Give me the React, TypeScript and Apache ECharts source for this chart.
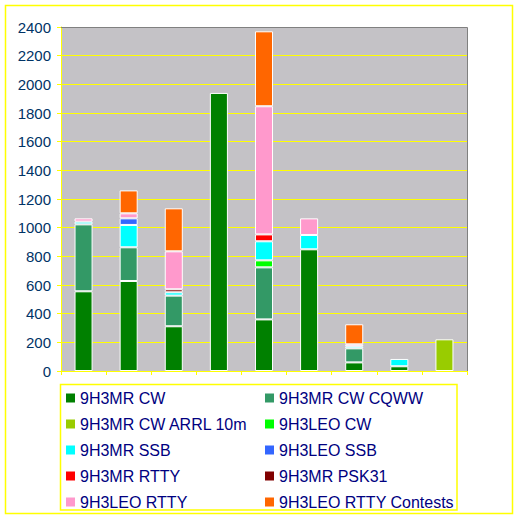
import React, { useEffect, useRef } from "react";
import * as echarts from "echarts";

const categories = ["1", "2", "3", "4", "5", "6", "7", "8", "9"];
const seriesNames = [
  "9H3MR CW",
  "9H3MR CW CQWW",
  "9H3MR CW ARRL 10m",
  "9H3LEO CW",
  "9H3MR SSB",
  "9H3LEO SSB",
  "9H3MR RTTY",
  "9H3MR PSK31",
  "9H3LEO RTTY",
  "9H3LEO RTTY Contests",
];
const seriesColors = [
  "#008000",
  "#339966",
  "#99CC00",
  "#00FF00",
  "#00FFFF",
  "#3366FF",
  "#FF0000",
  "#800000",
  "#FF99CC",
  "#FF6600",
];
const mrCw = [556, 628, 312, 1940, 360, 849, 60, 33, null];
const mrCwCqww = [467, 235, 214, null, 363, null, 98, null, null];
const mrCwArrl = [null, null, null, null, null, null, null, null, 221];
const leoCw = [null, null, null, null, 49, null, null, null, null];
const mrSsb = [19, 156, 23, null, 133, 100, 14, 51, null];
const leoSsb = [null, 46, null, null, null, null, null, null, null];
const mrRtty = [null, null, null, null, 48, null, null, null, null];
const mrPsk31 = [null, null, 21, null, null, null, null, null, null];
const leoRtty = [23, 35, 265, null, 894, 116, 14, null, null];
const leoRttyContests = [null, 160, 300, null, 523, null, 140, null, null];
const seriesData = [mrCw, mrCwCqww, mrCwArrl, leoCw, mrSsb, leoSsb, mrRtty, mrPsk31, leoRtty, leoRttyContests];
const yTicks = { min: 0, max: 2400, interval: 200 };

const FONT = "'Liberation Sans', Arial, sans-serif";

export default function App() {
  const ref = useRef<HTMLDivElement>(null);
  useEffect(() => {
    if (!ref.current) return;
    const chart = echarts.init(ref.current, null, { renderer: "svg" });
    const legendStyle = {
      orient: "vertical" as const,
      top: 390,
      padding: 0,
      itemWidth: 9,
      itemHeight: 9,
      itemGap: 10,
      icon: "rect",
      itemStyle: { borderWidth: 0 },
      textStyle: { color: "#000080", fontSize: 16, fontFamily: FONT, lineHeight: 15 },
      selectedMode: false,
    };
    chart.setOption({
      animation: false,
      backgroundColor: "#ffffff",
      textStyle: { fontFamily: FONT },
      grid: {
        left: 61,
        top: 27,
        right: 52,
        bottom: 149,
        show: true,
        backgroundColor: "#C4C2C6",
        borderWidth: 0,
      },
      legend: [
        { ...legendStyle, left: 66, data: seriesNames.filter((_, i) => i % 2 === 0) },
        { ...legendStyle, left: 265, data: seriesNames.filter((_, i) => i % 2 === 1) },
      ],
      xAxis: {
        type: "category",
        data: categories,
        boundaryGap: true,
        axisLine: { show: true, lineStyle: { color: "#FFFF00", width: 1 } },
        axisTick: { show: true, length: 4, lineStyle: { color: "#FFFF00" } },
        axisLabel: { show: false },
        splitLine: { show: false },
      },
      yAxis: {
        type: "value",
        min: yTicks.min,
        max: yTicks.max,
        interval: yTicks.interval,
        axisLine: { show: true, lineStyle: { color: "#FFFF00", width: 1 } },
        axisTick: { show: true, length: 4, lineStyle: { color: "#FFFF00" } },
        axisLabel: {
          color: "#003366",
          fontSize: 15,
          fontFamily: FONT,
          margin: 10,
          formatter: (v: number) => String(v),
        },
        splitLine: { show: true, lineStyle: { color: "#FFFF00", width: 1 } },
      },
      series: seriesNames.map((name, i) => ({
        name,
        type: "bar",
        stack: "total",
        barWidth: "40%",
        data: seriesData[i],
        itemStyle: { color: seriesColors[i], borderColor: "#ffffff", borderWidth: 1 },
      })),
      graphic: [
        {
          type: "polyline",
          z: 100,
          shape: { points: [[61, 27.5], [467.5, 27.5], [467.5, 371]] },
          style: { stroke: "#808080", lineWidth: 1, fill: null },
        },
        {
          type: "rect",
          z: 100,
          shape: { x: 5.5, y: 5.5, width: 507, height: 508 },
          style: { stroke: "#FFFF00", lineWidth: 1.5, fill: null },
        },
        {
          type: "rect",
          z: 100,
          shape: { x: 60.5, y: 384.5, width: 396.5, height: 125.5 },
          style: { stroke: "#FFFF00", lineWidth: 1.5, fill: null },
        },
      ],
    });
    return () => chart.dispose();
  }, []);
  return (
    <div
      ref={ref}
      style={{ position: "fixed", left: 0, top: 0, width: 519, height: 520 }}
    />
  );
}
